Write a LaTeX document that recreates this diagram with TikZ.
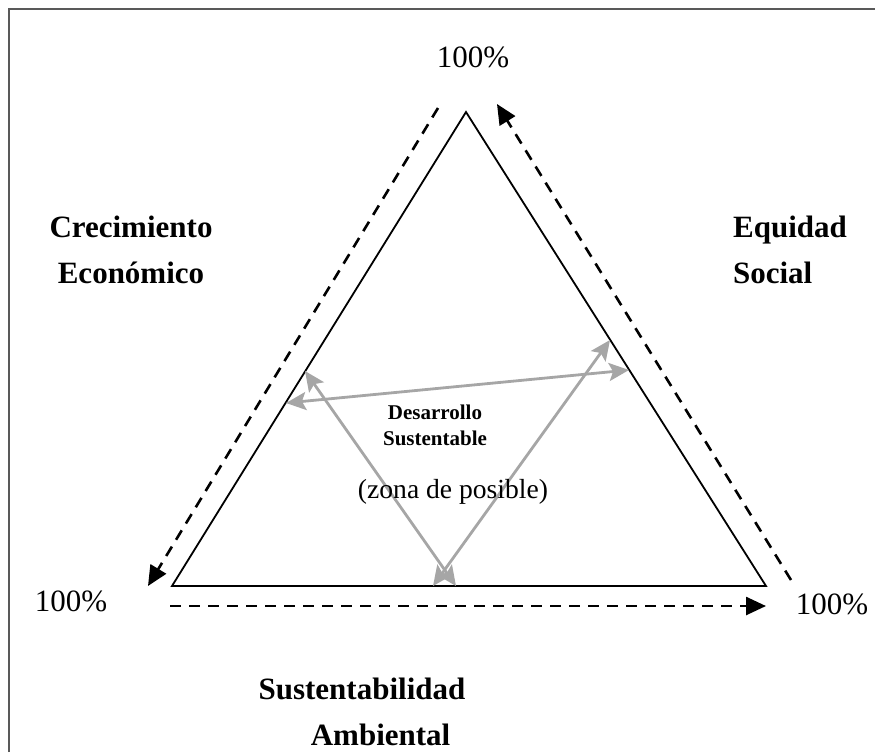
\documentclass[tikz,border=0pt]{standalone}
\usepackage{fontspec}
\setmainfont{Liberation Serif}
\usetikzlibrary{arrows.meta}

\tikzset{
    dasharrow/.style = {dash pattern = on 5.5pt off 4pt, line width = 1.3pt, -{Triangle[length=10pt, width=9pt]}},
    greyarrow/.style = {draw = black!35, line width = 1.4pt, {Stealth[length=10pt, width=9pt, inset=2pt]}-{Stealth[length=10pt, width=9pt, inset=2pt]}},
    label/.style = {font = \bfseries\fontsize{15.5}{23}\selectfont, inner sep = 0pt},
    percent/.style = {font = \fontsize{15.5}{18}\selectfont, inner sep = 0pt}
}

\begin{document}
\begin{tikzpicture}[x = 0.5pt, y = -0.5pt]
        \useasboundingbox (0,0) rectangle (875,752);
        \draw[black!65, line width = 1pt] (9,752) -- (9,9) -- (875,9);

        % triangle
        \coordinate (top) at (466,112);
        \coordinate (left) at (172,586);
        \coordinate (right) at (766,586);
        \draw[line width = 0.9pt] (top) -- (left) -- (right) -- cycle;

        % dashed arrows along the sides
        \coordinate (ls) at (438,108);
        \coordinate (le) at (148,586);
        \coordinate (rs) at (791,580);
        \coordinate (re) at (497,104);
        \coordinate (bs) at (170,606);
        \coordinate (be) at (766,606);
        \draw[dasharrow] (ls) -- (le);
        \draw[dasharrow] (rs) -- (re);
        \draw[dasharrow] (bs) -- (be);

        % grey arrows inside
        \coordinate (a1) at (286,403);
        \coordinate (a2) at (629,370);
        \coordinate (b1) at (305,371);
        \coordinate (b2) at (456,586);
        \coordinate (c1) at (433,586);
        \coordinate (c2) at (610,340);
        \draw[greyarrow] (a1) -- (a2);
        \draw[greyarrow] (b1) -- (b2);
        \draw[greyarrow] (c1) -- (c2);

        \node[percent] (ptop) at (473,57) {100\%};
        \node[percent] (pleft) at (71,601) {100\%};
        \node[percent] (pright) at (832,604) {100\%};

        \node[label, align = center] (crec) at (131,250) {Crecimiento\\Económico};
        \node[label, align = left] (equi) at (790,250) {Equidad\\Social};
        \node[label, align = center] (sust) at (362,712) {Sustentabilidad\\\hspace{1.2em}Ambiental};
        \node[font = \bfseries\fontsize{10.5}{13}\selectfont, align = center, inner sep = 0pt] (des) at (435,425) {Desarrollo\\Sustentable};
        \node[font = \fontsize{13.8}{16}\selectfont, inner sep = 0pt] (zona) at (453,492) {(zona de posible)};
    \end{tikzpicture}
\end{document}
